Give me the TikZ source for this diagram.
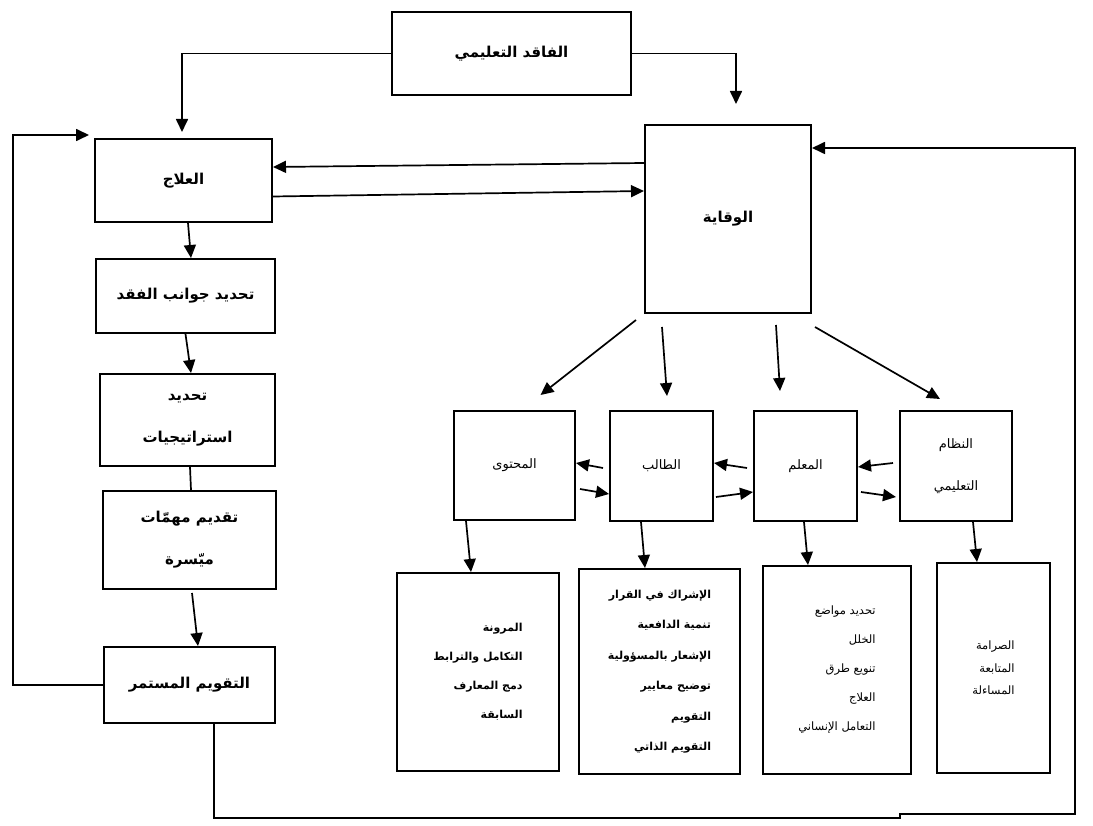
\documentclass[tikz,border=0pt]{standalone}
\usepackage{fontspec}
\usepackage{tikz}
\usetikzlibrary{arrows,arrows.meta,positioning}
\newfontfamily\arabicfont[Script=Arabic]{DejaVu Sans}
\TeXXeTstate=1
\newcommand\arline[1]{\beginR #1\endR}

\begin{document}
\begin{tikzpicture}[x=1pt, y=-1pt,
    every node/.style = {align=center, inner sep=2pt},
    box/.style = {draw, line width=2pt},
    main/.style = {box, font=\arabicfont\bfseries\fontsize{15}{42}\selectfont},
    mid/.style = {box, font=\arabicfont\fontsize{13}{42}\selectfont},
    list/.style = {box, align=right, font=\arabicfont\bfseries\fontsize{11}{29}\selectfont},
    arr/.style = {-{Triangle[length=13pt,width=12pt]}, line width=1.7pt}]
    \useasboundingbox (0,0) rectangle (1093,826);

    \node[main, minimum width=239pt, minimum height=83pt] (loss) at (511.5,53.5) {\arline{الفاقد التعليمي}};
    \node[main, minimum width=166pt, minimum height=188pt] (prev) at (728,219) {\arline{الوقاية}};
    \node[main, minimum width=177pt, minimum height=83pt] (cure) at (183.5,180.5) {\arline{العلاج}};
    \node[main, minimum width=179pt, minimum height=74pt] (gaps) at (185.5,296) {\arline{تحديد جوانب الفقد}};
    \node[main, minimum width=175pt, minimum height=92pt] (strat) at (187.5,420) {\arline{تحديد}\\\arline{استراتيجيات}};
    \node[main, minimum width=173pt, minimum height=98pt] (tasks) at (189.5,540) {\arline{تقديم مهمّات}\\\arline{ميّسرة}};
    \node[main, minimum width=171pt, minimum height=76pt] (eval) at (189.5,685) {\arline{التقويم المستمر}};

    \node[mid, minimum width=121pt, minimum height=109pt] (content) at (514.5,465.5) {\arline{المحتوى}};
    \node[mid, minimum width=103pt, minimum height=110pt] (student) at (661.5,466) {\arline{الطالب}};
    \node[mid, minimum width=103pt, minimum height=110pt] (teacher) at (805.5,466) {\arline{المعلم}};
    \node[mid, minimum width=112pt, minimum height=110pt] (system) at (956,466) {\arline{النظام}\\\arline{التعليمي}};

    \node[list, minimum width=162pt, minimum height=198pt] (flex) at (478,672)
      {\arline{المرونة}\\\arline{التكامل والترابط}\\\arline{دمج المعارف}\\\arline{السابقة}};
    \node[list, minimum width=161pt, minimum height=205pt, font=\arabicfont\bfseries\fontsize{11}{30.5}\selectfont] (share) at (659.5,671.5)
      {\arline{الإشراك في القرار}\\\arline{تنمية الدافعية}\\\arline{الإشعار بالمسؤولية}\\\arline{توضيح معايير}\\\arline{التقويم}\\\arline{التقويم الذاتي}};
    \node[list, minimum width=148pt, minimum height=208pt, font=\arabicfont\fontsize{11.5}{29}\selectfont] (spots) at (837,670)
      {\arline{تحديد مواضع}\\\arline{الخلل}\\\arline{تنويع طرق}\\\arline{العلاج}\\\arline{التعامل الإنساني}};
    \node[list, minimum width=113pt, minimum height=210pt, font=\arabicfont\fontsize{11.5}{22.5}\selectfont] (rigor) at (993.5,668)
      {\arline{الصرامة}\\\arline{المتابعة}\\\arline{المساءلة}};

    \coordinate (fb1) at (900,818);
    \coordinate (fb2) at (1075,814);

    \draw[arr] (loss.west) -| ([xshift=-1.5pt,yshift=6pt]cure.north);
    \draw[arr] (loss.east) -| ([xshift=8pt,yshift=20pt]prev.north);
    \draw[arr] ([yshift=56pt]prev.west) -- ([yshift=13.5pt]cure.east);
    \draw[arr] ([yshift=-16pt]cure.east) -- ([yshift=28pt]prev.west);

    \draw[arr] ([xshift=4.5pt]cure.south) -- ([xshift=5.5pt]gaps.north);
    \draw[arr] (gaps.south) -- ([xshift=3.5pt]strat.north);
    \draw[line width=1.7pt] ([xshift=2.5pt]strat.south) -- ([xshift=1.5pt]tasks.north);
    \draw[arr] ([xshift=2.5pt,yshift=-3pt]tasks.south) -- ([xshift=8.5pt]eval.north);
    \draw[arr] (eval.west) -- ++(-90,0) |- ([xshift=-5pt,yshift=3pt]cure.north west);
    \draw[arr] ([xshift=24.5pt]eval.south) |- (fb1) |- (fb2) |- ([yshift=71pt]prev.east);

    \draw[arr] ([xshift=-8pt,yshift=-6pt]prev.south west) -- ([xshift=26pt,yshift=15pt]content.north);
    \draw[arr] ([xshift=18pt,yshift=-13pt]prev.south west) -- ([xshift=5.5pt,yshift=14pt]student.north);
    \draw[arr] ([xshift=48pt,yshift=-11pt]prev.south) -- ([xshift=-25.5pt,yshift=19pt]teacher.north);
    \draw[arr] ([xshift=3pt,yshift=-13pt]prev.south east) -- ([xshift=-16pt,yshift=11pt]system.north);

    \draw[arr] ([xshift=-6pt,yshift=-2pt]student.west) -- ([yshift=2.5pt]content.east);
    \draw[arr] ([xshift=4pt,yshift=-23.5pt]content.east) -- ([yshift=-28pt]student.west);
    \draw[arr] ([xshift=-6pt,yshift=-2pt]teacher.west) -- ([yshift=3pt]student.east);
    \draw[arr] ([xshift=2pt,yshift=-31pt]student.east) -- ([yshift=-26pt]teacher.west);
    \draw[arr] ([xshift=-6pt,yshift=3pt]system.west) -- ([yshift=-1pt]teacher.east);
    \draw[arr] ([xshift=3pt,yshift=-26pt]teacher.east) -- ([xshift=-3pt,yshift=-31pt]system.west);

    \draw[arr] ([xshift=-48.5pt]content.south) -- ([xshift=-7pt]flex.north);
    \draw[arr] ([xshift=-20.5pt]student.south) -- ([xshift=-14.5pt]share.north);
    \draw[arr] ([xshift=-1.5pt]teacher.south) -- ([xshift=-29pt]spots.north);
    \draw[arr] ([xshift=17pt]system.south) -- ([xshift=-16.5pt]rigor.north);
  \end{tikzpicture}
\end{document}
